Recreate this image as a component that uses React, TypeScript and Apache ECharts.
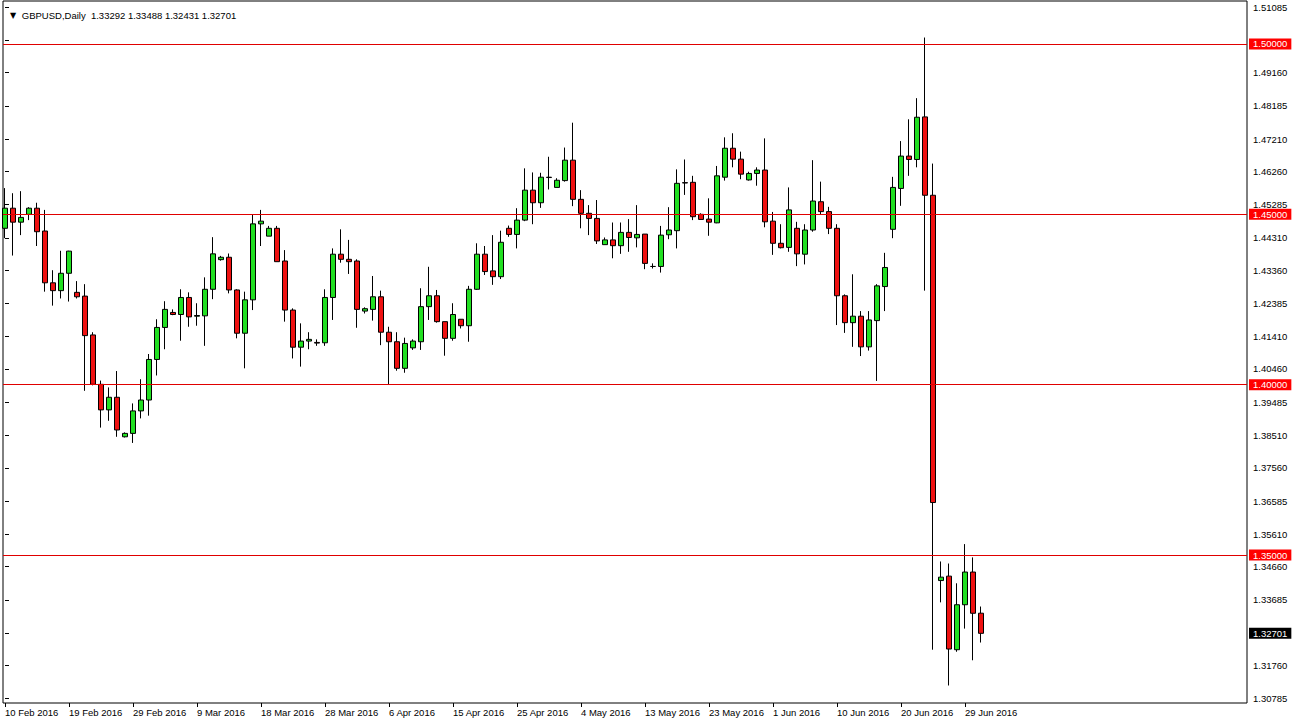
import React, { useEffect, useRef } from "react";
import * as echarts from "echarts";

// GBPUSD daily bars, 10 Feb 2016 .. 1 Jul 2016 (broker feed incl. Sunday bars)
const opens = [
  1.4459, 1.4518, 1.4477, 1.4500, 1.4518, 1.4451, 1.4299, 1.4276, 1.4327, 1.4271,
  1.4260, 1.4146, 1.4001, 1.3926, 1.3963, 1.3847, 1.3857, 1.3923, 1.3955, 1.4074,
  1.4168, 1.4212, 1.4206, 1.4256, 1.4201, 1.4202, 1.4280, 1.4367, 1.4374, 1.4278,
  1.4151, 1.4249, 1.4472, 1.4436, 1.4459, 1.4363, 1.4219, 1.4110, 1.4128, 1.4124,
  1.4123, 1.4256, 1.4383, 1.4368, 1.4363, 1.4216, 1.4221, 1.4258, 1.4154, 1.4126,
  1.4048, 1.4108, 1.4126, 1.4229, 1.4261, 1.4185, 1.4136, 1.4192, 1.4173, 1.4280,
  1.4383, 1.4334, 1.4317, 1.4459, 1.4441, 1.4483, 1.4571, 1.4534, 1.4609, 1.4579,
  1.4599, 1.4659, 1.4544, 1.4503, 1.4488, 1.4411, 1.4425, 1.4408, 1.4447, 1.4431,
  1.4442, 1.4347, 1.4347, 1.4440, 1.4452, 1.4593, 1.4594, 1.4500, 1.4486, 1.4475,
  1.4609, 1.4694, 1.4662, 1.4601, 1.4620, 1.4630, 1.4480, 1.4415, 1.4403, 1.4459,
  1.4383, 1.4454, 1.4537, 1.4508, 1.4459, 1.4261, 1.4182, 1.4201, 1.4111, 1.4188,
  1.4288, 1.4456, 1.4576, 1.4671, 1.4661, 1.4786, 1.4556, 1.3425, 1.3438, 1.3222,
  1.3354, 1.3450, 1.33292,
];
const highs = [
  1.4577, 1.4562, 1.4568, 1.4521, 1.4534, 1.4513, 1.4336, 1.4393, 1.4393, 1.4304,
  1.4295, 1.4154, 1.4012, 1.3992, 1.4040, 1.3860, 1.3945, 1.4016, 1.4090, 1.4192,
  1.4245, 1.4221, 1.4280, 1.4271, 1.4239, 1.4315, 1.4433, 1.4378, 1.4385, 1.4280,
  1.4273, 1.4498, 1.4513, 1.4466, 1.4466, 1.4395, 1.4224, 1.4180, 1.4154, 1.4133,
  1.4280, 1.4400, 1.4456, 1.4425, 1.4368, 1.4227, 1.4319, 1.4276, 1.4170, 1.4154,
  1.4138, 1.4133, 1.4283, 1.4346, 1.4278, 1.4185, 1.4239, 1.4192, 1.4290, 1.4415,
  1.4407, 1.4439, 1.4452, 1.4467, 1.4518, 1.4635, 1.4623, 1.4622, 1.4669, 1.4606,
  1.4696, 1.4769, 1.4571, 1.4527, 1.4542, 1.4432, 1.4476, 1.4476, 1.4486, 1.4527,
  1.4442, 1.4356, 1.4466, 1.4521, 1.4632, 1.4661, 1.4613, 1.4503, 1.4547, 1.4642,
  1.4726, 1.4738, 1.4684, 1.4625, 1.4638, 1.4723, 1.4507, 1.4471, 1.4579, 1.4478,
  1.4471, 1.4659, 1.4596, 1.4522, 1.4471, 1.4265, 1.4324, 1.4216, 1.4216, 1.4295,
  1.4387, 1.4610, 1.4715, 1.4779, 1.4841, 1.5019, 1.4649, 1.3481, 1.3475, 1.3417,
  1.3532, 1.3493, 1.33488,
];
const lows = [
  1.4430, 1.4379, 1.4439, 1.4483, 1.4407, 1.4273, 1.4232, 1.4253, 1.4244, 1.4253,
  1.3982, 1.3998, 1.3874, 1.3894, 1.3847, 1.3845, 1.3829, 1.3901, 1.3909, 1.4027,
  1.4104, 1.4204, 1.4129, 1.4170, 1.4173, 1.4114, 1.4251, 1.4364, 1.4268, 1.4136,
  1.4048, 1.4219, 1.4407, 1.4436, 1.4361, 1.4185, 1.4077, 1.4053, 1.4104, 1.4114,
  1.4114, 1.4190, 1.4358, 1.4325, 1.4167, 1.4209, 1.4188, 1.4116, 1.3999, 1.4041,
  1.4035, 1.4102, 1.4102, 1.4190, 1.4182, 1.4085, 1.4129, 1.4165, 1.4126, 1.4278,
  1.4322, 1.4293, 1.4310, 1.4434, 1.4400, 1.4480, 1.4471, 1.4519, 1.4573, 1.4579,
  1.4596, 1.4524, 1.4459, 1.4439, 1.4413, 1.4411, 1.4371, 1.4384, 1.4390, 1.4403,
  1.4339, 1.4341, 1.4329, 1.4427, 1.4400, 1.4557, 1.4483, 1.4485, 1.4437, 1.4474,
  1.4599, 1.4638, 1.4603, 1.4599, 1.4584, 1.4462, 1.4381, 1.4400, 1.4390, 1.4348,
  1.4353, 1.4449, 1.4498, 1.4442, 1.4175, 1.4152, 1.4111, 1.4084, 1.4100, 1.4011,
  1.4216, 1.4430, 1.4525, 1.4613, 1.4638, 1.4276, 1.3222, 1.3361, 1.3117, 1.3216,
  1.3284, 1.3191, 1.32431,
];
const closes = [
  1.4518, 1.4477, 1.4491, 1.4518, 1.4449, 1.4299, 1.4276, 1.4327, 1.4392, 1.4258,
  1.4144, 1.4001, 1.3926, 1.3963, 1.3867, 1.3857, 1.3923, 1.3955, 1.4074, 1.4168,
  1.4221, 1.4206, 1.4256, 1.4199, 1.4203, 1.4280, 1.4384, 1.4374, 1.4278, 1.4151,
  1.4249, 1.4472, 1.4480, 1.4459, 1.4361, 1.4219, 1.4110, 1.4128, 1.4133, 1.4122,
  1.4256, 1.4383, 1.4368, 1.4361, 1.4221, 1.4223, 1.4258, 1.4154, 1.4126, 1.4048,
  1.4121, 1.4128, 1.4229, 1.4261, 1.4185, 1.4136, 1.4206, 1.4173, 1.4280, 1.4383,
  1.4332, 1.4317, 1.4418, 1.4441, 1.4483, 1.4571, 1.4534, 1.4609, 1.4608, 1.4600,
  1.4659, 1.4544, 1.4503, 1.4488, 1.4422, 1.4425, 1.4408, 1.4447, 1.4432, 1.4441,
  1.4356, 1.4347, 1.4439, 1.4454, 1.4591, 1.4592, 1.4493, 1.4485, 1.4477, 1.4613,
  1.4694, 1.4662, 1.4618, 1.4620, 1.4630, 1.4478, 1.4415, 1.4402, 1.4513, 1.4384,
  1.4454, 1.4539, 1.4508, 1.4459, 1.4261, 1.4182, 1.4201, 1.4111, 1.4190, 1.4290,
  1.4344, 1.4579, 1.4671, 1.4661, 1.4785, 1.4556, 1.3654, 1.3435, 1.3224, 1.3354,
  1.3450, 1.3329, 1.32701,
];

// date labels, one every 8 bars starting at bar 0
const dateLabels = [
  "10 Feb 2016", "19 Feb 2016", "29 Feb 2016", "9 Mar 2016", "18 Mar 2016",
  "28 Mar 2016", "6 Apr 2016", "15 Apr 2016", "25 Apr 2016", "4 May 2016",
  "13 May 2016", "23 May 2016", "1 Jun 2016", "10 Jun 2016", "20 Jun 2016",
  "29 Jun 2016",
];
const barsPerLabel = 8;

// price scale ticks
const priceTicks = [
  1.51085, 1.5011, 1.4916, 1.48185, 1.4721, 1.4626, 1.45285, 1.4431, 1.4336,
  1.42385, 1.4141, 1.4046, 1.39485, 1.3851, 1.3756, 1.36585, 1.3561, 1.3466,
  1.33685, 1.3271, 1.3176, 1.30785,
];

// horizontal support / resistance levels
const levels = [1.5, 1.45, 1.4, 1.35];

const symbolName = "GBPUSD,Daily";

const FONT = "Liberation Sans";

export default function App() {
  const ref = useRef<HTMLDivElement>(null);

  useEffect(() => {
    document.body.style.margin = "0";
    document.body.style.background = "#ffffff";
    const chart = echarts.init(ref.current!, null, { renderer: "svg" });

    const data = opens.map((o, i) => [i, o, closes[i], lows[i], highs[i]]);
    const n = opens.length;
    const last = n - 1;
    const labelIdx = dateLabels.map((_, k) => k * barsPerLabel);
    const tagValues = [...levels, closes[last]];
    // tick labels hidden behind a price tag are not drawn (as in the terminal)
    const priceLabels = priceTicks.filter(
      (t) => !tagValues.some((v) => Math.abs(v - t) < 0.0018)
    );

    const titleText = `${symbolName}  ${opens[last].toFixed(5)} ${highs[last].toFixed(5)} ${lows[last].toFixed(5)} ${closes[last].toFixed(5)}`;

    const tagLabel = (v: number, bg: string) => ({
      show: true,
      position: "end",
      distance: 2,
      formatter: v.toFixed(5),
      backgroundColor: bg,
      color: "#ffffff",
      fontFamily: FONT,
      fontSize: 9.5,
      lineHeight: 10,
      padding: [1, 4, 0, 4],
    });

    const option: any = {
      animation: false,
      backgroundColor: "#ffffff",
      textStyle: { fontFamily: FONT },
      title: {
        text: "{t|▼} " + titleText,
        left: 5,
        top: 5,
        textStyle: {
          fontFamily: FONT,
          fontSize: 9.5,
          fontWeight: "normal",
          color: "#000",
          rich: {
            t: { fontSize: 8, fontFamily: "DejaVu Sans", color: "#000", padding: [0, 3, 0, 0] },
          },
        },
      },
      grid: {
        left: 3,
        top: 1,
        right: 45,
        bottom: 23,
        show: true,
        borderColor: "#000",
        borderWidth: 1,
        backgroundColor: "#ffffff",
      },
      xAxis: {
        type: "value",
        min: -0.25,
        max: 155.25,
        axisLine: { show: false },
        splitLine: { show: false },
        axisTick: {
          show: true,
          customValues: labelIdx,
          length: 4,
          lineStyle: { color: "#000" },
        },
        axisLabel: {
          customValues: labelIdx,
          align: "left",
          margin: 4,
          fontFamily: FONT,
          fontSize: 9.5,
          color: "#000",
          formatter: (v: number) => dateLabels[Math.round(v / barsPerLabel)] ?? "",
        },
      },
      yAxis: {
        type: "value",
        position: "right",
        min: 1.30656,
        max: 1.51262,
        axisLine: { show: false },
        splitLine: { show: false },
        axisTick: {
          show: true,
          customValues: priceTicks,
          length: 4,
          lineStyle: { color: "#000" },
        },
        axisLabel: {
          customValues: priceLabels,
          margin: 6,
          fontFamily: FONT,
          fontSize: 9.5,
          color: "#000",
          formatter: (v: number) => v.toFixed(5),
        },
      },
      series: [
        {
          type: "candlestick",
          data,
          encode: { x: 0, y: [1, 2, 3, 4] },
          barWidth: 5,
          itemStyle: {
            color: "#22e022",
            color0: "#ee1111",
            borderColor: "#000",
            borderColor0: "#000",
            borderColorDoji: "#000",
            borderWidth: 1,
          },
          markLine: {
            silent: true,
            symbol: "none",
            precision: 5,
            animation: false,
            data: [
              ...levels.map((v) => ({
                yAxis: v,
                lineStyle: { color: "#e00000", width: 1, type: "solid" },
                label: tagLabel(v, "#ff0000"),
              })),
              {
                yAxis: closes[last],
                lineStyle: { color: "rgba(255,255,255,0)", width: 1, type: "solid" },
                label: tagLabel(closes[last], "#000000"),
              },
            ],
          },
        },
      ],
    };

    chart.setOption(option);
    return () => chart.dispose();
  }, []);

  return <div ref={ref} style={{ width: 1292, height: 726 }} />;
}
